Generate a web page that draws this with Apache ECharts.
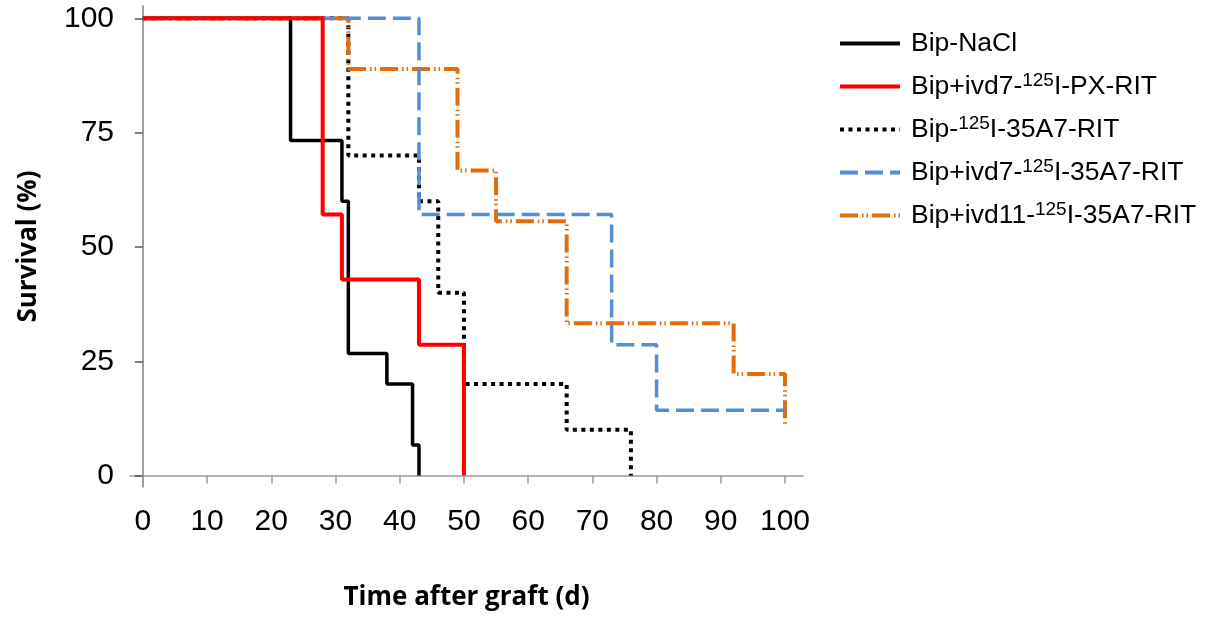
<!DOCTYPE html>
<html>
<head>
<meta charset="utf-8">
<script src="https://cdn.jsdelivr.net/npm/echarts@6/dist/echarts.min.js"></script>
<style>html,body{margin:0;padding:0;background:#fff}#c{width:1213px;height:620px}</style>
</head>
<body>
<div id="c"></div>
<script>
// Kaplan-Meier steps: [day, survival %]
const bipNaCl = [[0,100],[23,73.3],[31,60],[32,26.7],[38,20],[42,6.7],[43,0]];
const bipIvd7PX = [[0,100],[28,57.1],[31,42.9],[43,28.6],[50,0]];
const bip35A7 = [[0,100],[32,70],[43,60],[46,40],[50,20],[66,10],[76,0]];
const bipIvd7_35A7 = [[0,100],[43,57.1],[73,28.6],[80,14.3],[100,14.3]];
const bipIvd11_35A7 = [[0,100],[32,88.9],[49,66.7],[55,55.6],[66,33.3],[92,22.2],[100,11.1]];
const xTicks = [0,10,20,30,40,50,60,70,80,90,100];
const yTicks = [0,25,50,75,100];
const seriesNames = ['Bip-NaCl','Bip+ivd7-125I-PX-RIT','Bip-125I-35A7-RIT','Bip+ivd7-125I-35A7-RIT','Bip+ivd11-125I-35A7-RIT'];

const chart = echarts.init(document.getElementById('c'));
function mk(name, data, color, width, type, z) {
  return {
    name: name, type: 'line', step: 'end', data: data, symbol: 'none', showSymbol: false,
    z: z, lineStyle: {color: color, width: width, type: type}, itemStyle: {color: color},
    animation: false
  };
}
const FONT = 'Liberation Sans, Arial, sans-serif';
const legendRich = {
  n: {fontSize: 26.5, fontFamily: FONT, color: '#000', lineHeight: 30},
  s: {fontSize: 19, fontFamily: FONT, color: '#000', lineHeight: 21, verticalAlign: 'top'}
};
chart.setOption({
  animation: false,
  backgroundColor: '#fff',
  grid: {left: 130, right: 410, top: 6, bottom: 133, containLabel: false},
  legend: {
    orient: 'vertical', left: 838, top: 30, padding: 0, itemWidth: 60, itemHeight: 20, itemGap: 14.5,
    data: seriesNames,
    itemStyle: {opacity: 0},
    lineStyle: {width: 4},
    formatter: function (name) {
      const i = name.indexOf('125');
      if (i < 0) return '{n|' + name + '}';
      return '{n|' + name.slice(0, i) + '}{s|125}{n|' + name.slice(i + 3) + '}';
    },
    textStyle: {rich: legendRich, padding: [0, 0, 0, 6]}
  },
  xAxis: {
    type: 'value', min: -2, max: 102.8,
    name: 'Time after graft (d)', nameLocation: 'middle', nameGap: 98,
    nameTextStyle: {fontFamily: 'Open Sans, sans-serif', fontWeight: 'bold', fontSize: 26, color: '#000'},
    axisLine: {show: true, lineStyle: {color: '#999', width: 1.5}},
    axisTick: {show: true, length: 8, customValues: xTicks, lineStyle: {color: '#999', width: 1.5}},
    axisLabel: {customValues: xTicks, fontSize: 30, fontFamily: FONT, color: '#000', margin: 20},
    splitLine: {show: false}
  },
  yAxis: {
    type: 'value', min: -2.5, max: 102.7,
    name: 'Survival (%)', nameLocation: 'middle', nameGap: 88, nameRotate: 90,
    nameTextStyle: {fontFamily: 'Open Sans, sans-serif', fontWeight: 'bold', fontSize: 26, color: '#000'},
    axisLine: {show: true, lineStyle: {color: '#808080', width: 1.5}},
    axisTick: {show: true, length: 8, customValues: yTicks, lineStyle: {color: '#555', width: 1.5}},
    axisLabel: {customValues: yTicks, fontSize: 30, fontFamily: FONT, color: '#000', margin: 16},
    splitLine: {show: false}
  },
  series: [
    mk(seriesNames[0], bipNaCl, '#000000', 3.5, 'solid', 2),
    mk(seriesNames[1], bipIvd7PX, '#ff0000', 4, 'solid', 6),
    mk(seriesNames[2], bip35A7, '#000000', 4, [4, 4.5], 3),
    mk(seriesNames[3], bipIvd7_35A7, '#558ED5', 3.5, [18, 7], 5),
    mk(seriesNames[4], bipIvd11_35A7, '#E46C0A', 4, [18, 4, 1.5, 3, 1.5, 4], 4)
  ]
});
</script>
</body>
</html>
